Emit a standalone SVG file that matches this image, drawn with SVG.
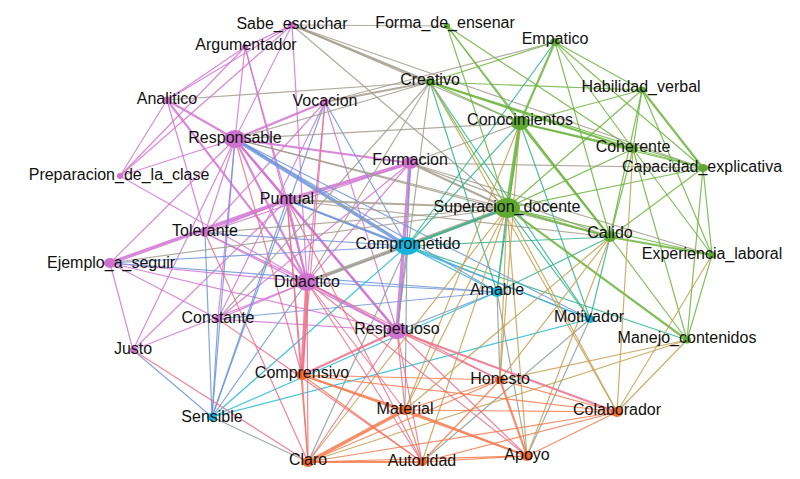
<svg xmlns="http://www.w3.org/2000/svg" width="800" height="479" viewBox="0 0 800 479">
<style>
line{stroke-width:1.2;stroke-opacity:.85;fill:none}
.w2{stroke-width:2.2}
.w3{stroke-width:3.6}
.pp{stroke:#d274d2}
.pc{stroke:#6c94dc}
.pg{stroke:#a39c8e}
.po{stroke:#ec7088}
.cc{stroke:#1fb9dc}
.cg{stroke:#2fb48e}
.co{stroke:#8c9e98}
.gg{stroke:#6cb43e}
.go{stroke:#c4a052}
.oo{stroke:#f57a4c}
.P{fill:#cf72cf}
.C{fill:#16b4dc}
.G{fill:#5fa832}
.O{fill:#f26a2c}
text{font-family:"Liberation Sans",Arial,sans-serif;font-size:16px;fill:#111;text-anchor:middle}
</style>
<rect width="800" height="479" fill="#fff"/>
<g id="edges">
<line class="pp" x1="292" y1="25" x2="245" y2="47"/>
<line class="pp" x1="292" y1="25" x2="167" y2="100"/>
<line class="pp" x1="292" y1="25" x2="120" y2="176"/>
<line class="pp" x1="292" y1="25" x2="235" y2="139"/>
<line class="pp" x1="292" y1="25" x2="307" y2="282"/>
<line class="pp" x1="245" y1="47" x2="167" y2="100"/>
<line class="pp" x1="245" y1="47" x2="120" y2="176"/>
<line class="pp" x1="245" y1="47" x2="235" y2="139"/>
<line class="pp" x1="245" y1="47" x2="307" y2="282"/>
<line class="pp" x1="245" y1="47" x2="287" y2="200"/>
<line class="pp" x1="167" y1="100" x2="120" y2="176"/>
<line class="pp w2" x1="167" y1="100" x2="235" y2="139"/>
<line class="pp" x1="167" y1="100" x2="205" y2="233"/>
<line class="pp w2" x1="167" y1="100" x2="307" y2="282"/>
<line class="pp w2" x1="325" y1="102" x2="235" y2="139"/>
<line class="pp" x1="325" y1="102" x2="307" y2="282"/>
<line class="pp" x1="325" y1="102" x2="397" y2="331"/>
<line class="pp" x1="325" y1="102" x2="205" y2="233"/>
<line class="pp" x1="325" y1="102" x2="218" y2="319"/>
<line class="pp" x1="235" y1="139" x2="120" y2="176"/>
<line class="pp w2" x1="235" y1="139" x2="287" y2="200"/>
<line class="pp" x1="235" y1="139" x2="205" y2="233"/>
<line class="pp w2" x1="235" y1="139" x2="307" y2="282"/>
<line class="pp w2" x1="235" y1="139" x2="397" y2="331"/>
<line class="pp w2" x1="235" y1="139" x2="410" y2="163"/>
<line class="pp" x1="235" y1="139" x2="218" y2="319"/>
<line class="pp" x1="235" y1="139" x2="110" y2="263"/>
<line class="pp" x1="120" y1="176" x2="307" y2="282"/>
<line class="pp w3" x1="410" y1="163" x2="287" y2="200"/>
<line class="pp w3" x1="410" y1="163" x2="397" y2="331"/>
<line class="pp" x1="410" y1="163" x2="307" y2="282"/>
<line class="pp" x1="410" y1="163" x2="205" y2="233"/>
<line class="pp" x1="410" y1="163" x2="218" y2="319"/>
<line class="pp w3" x1="287" y1="200" x2="110" y2="263"/>
<line class="pp w2" x1="287" y1="200" x2="307" y2="282"/>
<line class="pp w2" x1="287" y1="200" x2="397" y2="331"/>
<line class="pp" x1="287" y1="200" x2="205" y2="233"/>
<line class="pp" x1="205" y1="233" x2="307" y2="282"/>
<line class="pp" x1="205" y1="233" x2="397" y2="331"/>
<line class="pp" x1="110" y1="263" x2="307" y2="282"/>
<line class="pp" x1="110" y1="263" x2="397" y2="331"/>
<line class="pp" x1="110" y1="263" x2="133" y2="350"/>
<line class="pp" x1="110" y1="263" x2="218" y2="319"/>
<line class="pp w2" x1="307" y1="282" x2="397" y2="331"/>
<line class="pp" x1="307" y1="282" x2="218" y2="319"/>
<line class="pp" x1="307" y1="282" x2="133" y2="350"/>
<line class="pp" x1="218" y1="319" x2="397" y2="331"/>
<line class="pp" x1="133" y1="350" x2="287" y2="200"/>
<line class="pp" x1="133" y1="350" x2="235" y2="139"/>
<line class="pc w3" x1="235" y1="139" x2="407" y2="246"/>
<line class="pc" x1="235" y1="139" x2="212" y2="417"/>
<line class="pc" x1="235" y1="139" x2="590" y2="319"/>
<line class="pc" x1="235" y1="139" x2="497" y2="292"/>
<line class="pc" x1="325" y1="102" x2="407" y2="246"/>
<line class="pc" x1="325" y1="102" x2="212" y2="417"/>
<line class="pc w2" x1="287" y1="200" x2="407" y2="246"/>
<line class="pc" x1="287" y1="200" x2="212" y2="417"/>
<line class="pc" x1="287" y1="200" x2="590" y2="319"/>
<line class="pc" x1="205" y1="233" x2="212" y2="417"/>
<line class="pc" x1="205" y1="233" x2="407" y2="246"/>
<line class="pc" x1="110" y1="263" x2="497" y2="292"/>
<line class="pc" x1="110" y1="263" x2="407" y2="246"/>
<line class="pc" x1="307" y1="282" x2="212" y2="417"/>
<line class="pc" x1="307" y1="282" x2="497" y2="292"/>
<line class="pc" x1="218" y1="319" x2="212" y2="417"/>
<line class="pc" x1="218" y1="319" x2="497" y2="292"/>
<line class="pc" x1="133" y1="350" x2="212" y2="417"/>
<line class="pc" x1="397" y1="331" x2="497" y2="292"/>
<line class="pc" x1="397" y1="331" x2="407" y2="246"/>
<line class="pc" x1="410" y1="163" x2="407" y2="246"/>
<line class="pc" x1="307" y1="282" x2="407" y2="246"/>
<line class="pg" x1="292" y1="25" x2="447" y2="26"/>
<line class="pg w2" x1="292" y1="25" x2="430" y2="82"/>
<line class="pg" x1="292" y1="25" x2="520" y2="123"/>
<line class="pg" x1="292" y1="25" x2="703" y2="168"/>
<line class="pg" x1="292" y1="25" x2="507" y2="208"/>
<line class="pg" x1="167" y1="100" x2="430" y2="82"/>
<line class="pg w2" x1="325" y1="102" x2="430" y2="82"/>
<line class="pg" x1="325" y1="102" x2="555" y2="42"/>
<line class="pg" x1="235" y1="139" x2="520" y2="123"/>
<line class="pg" x1="235" y1="139" x2="507" y2="208"/>
<line class="pg" x1="235" y1="139" x2="430" y2="82"/>
<line class="pg" x1="235" y1="139" x2="610" y2="237"/>
<line class="pg w2" x1="410" y1="163" x2="507" y2="208"/>
<line class="pg" x1="410" y1="163" x2="610" y2="237"/>
<line class="pg" x1="410" y1="163" x2="712" y2="255"/>
<line class="pg" x1="410" y1="163" x2="703" y2="168"/>
<line class="pg" x1="410" y1="163" x2="520" y2="123"/>
<line class="pg w2" x1="287" y1="200" x2="507" y2="208"/>
<line class="pg" x1="287" y1="200" x2="610" y2="237"/>
<line class="pg w3" x1="307" y1="282" x2="507" y2="208"/>
<line class="pg" x1="218" y1="319" x2="430" y2="82"/>
<line class="pg" x1="205" y1="233" x2="507" y2="208"/>
<line class="pg" x1="397" y1="331" x2="430" y2="82"/>
<line class="pg" x1="110" y1="263" x2="507" y2="208"/>
<line class="pg" x1="307" y1="282" x2="430" y2="82"/>
<line class="cc" x1="407" y1="246" x2="497" y2="292"/>
<line class="cc" x1="407" y1="246" x2="590" y2="319"/>
<line class="cc" x1="407" y1="246" x2="212" y2="417"/>
<line class="cc" x1="212" y1="417" x2="590" y2="319"/>
<line class="cc" x1="212" y1="417" x2="497" y2="292"/>
<line class="cg w2" x1="407" y1="246" x2="507" y2="208"/>
<line class="cg" x1="407" y1="246" x2="520" y2="123"/>
<line class="cg" x1="407" y1="246" x2="555" y2="42"/>
<line class="cg" x1="430" y1="82" x2="497" y2="292"/>
<line class="cg" x1="520" y1="123" x2="497" y2="292"/>
<line class="cg" x1="610" y1="237" x2="497" y2="292"/>
<line class="cg" x1="407" y1="246" x2="610" y2="237"/>
<line class="cg" x1="590" y1="319" x2="520" y2="123"/>
<line class="cg" x1="590" y1="319" x2="610" y2="237"/>
<line class="cg" x1="590" y1="319" x2="507" y2="208"/>
<line class="cg" x1="407" y1="246" x2="687" y2="340"/>
<line class="cg" x1="497" y1="292" x2="507" y2="208"/>
<line class="cg" x1="590" y1="319" x2="430" y2="82"/>
<line class="co" x1="212" y1="417" x2="308" y2="462"/>
<line class="co" x1="497" y1="292" x2="500" y2="380"/>
<line class="co" x1="497" y1="292" x2="527" y2="456"/>
<line class="co" x1="590" y1="319" x2="422" y2="462"/>
<line class="co" x1="590" y1="319" x2="527" y2="456"/>
<line class="co" x1="407" y1="246" x2="308" y2="462"/>
<line class="co" x1="407" y1="246" x2="405" y2="410"/>
<line class="gg" x1="447" y1="26" x2="520" y2="123"/>
<line class="gg" x1="447" y1="26" x2="507" y2="208"/>
<line class="gg" x1="447" y1="26" x2="633" y2="149"/>
<line class="gg" x1="447" y1="26" x2="610" y2="237"/>
<line class="gg" x1="555" y1="42" x2="430" y2="82"/>
<line class="gg w2" x1="555" y1="42" x2="520" y2="123"/>
<line class="gg" x1="555" y1="42" x2="642" y2="90"/>
<line class="gg" x1="555" y1="42" x2="633" y2="149"/>
<line class="gg" x1="555" y1="42" x2="703" y2="168"/>
<line class="gg" x1="555" y1="42" x2="610" y2="237"/>
<line class="gg" x1="430" y1="82" x2="642" y2="90"/>
<line class="gg" x1="430" y1="82" x2="520" y2="123"/>
<line class="gg w2" x1="430" y1="82" x2="633" y2="149"/>
<line class="gg" x1="430" y1="82" x2="703" y2="168"/>
<line class="gg" x1="430" y1="82" x2="507" y2="208"/>
<line class="gg" x1="642" y1="90" x2="520" y2="123"/>
<line class="gg" x1="642" y1="90" x2="633" y2="149"/>
<line class="gg w2" x1="642" y1="90" x2="703" y2="168"/>
<line class="gg" x1="642" y1="90" x2="610" y2="237"/>
<line class="gg" x1="642" y1="90" x2="712" y2="255"/>
<line class="gg" x1="642" y1="90" x2="507" y2="208"/>
<line class="gg w3" x1="520" y1="123" x2="507" y2="208"/>
<line class="gg w2" x1="520" y1="123" x2="633" y2="149"/>
<line class="gg w2" x1="520" y1="123" x2="610" y2="237"/>
<line class="gg" x1="520" y1="123" x2="703" y2="168"/>
<line class="gg" x1="633" y1="149" x2="703" y2="168"/>
<line class="gg" x1="633" y1="149" x2="610" y2="237"/>
<line class="gg" x1="633" y1="149" x2="712" y2="255"/>
<line class="gg" x1="633" y1="149" x2="687" y2="340"/>
<line class="gg" x1="633" y1="149" x2="507" y2="208"/>
<line class="gg" x1="703" y1="168" x2="507" y2="208"/>
<line class="gg" x1="703" y1="168" x2="712" y2="255"/>
<line class="gg" x1="703" y1="168" x2="687" y2="340"/>
<line class="gg" x1="703" y1="168" x2="610" y2="237"/>
<line class="gg w2" x1="507" y1="208" x2="610" y2="237"/>
<line class="gg w2" x1="507" y1="208" x2="687" y2="340"/>
<line class="gg w2" x1="610" y1="237" x2="712" y2="255"/>
<line class="gg" x1="610" y1="237" x2="687" y2="340"/>
<line class="gg" x1="712" y1="255" x2="687" y2="340"/>
<line class="gg" x1="507" y1="208" x2="712" y2="255"/>
<line class="go" x1="520" y1="123" x2="405" y2="410"/>
<line class="go" x1="520" y1="123" x2="500" y2="380"/>
<line class="go" x1="507" y1="208" x2="405" y2="410"/>
<line class="go" x1="507" y1="208" x2="422" y2="462"/>
<line class="go" x1="507" y1="208" x2="527" y2="456"/>
<line class="go" x1="507" y1="208" x2="308" y2="462"/>
<line class="go" x1="507" y1="208" x2="500" y2="380"/>
<line class="go" x1="610" y1="237" x2="527" y2="456"/>
<line class="go" x1="610" y1="237" x2="500" y2="380"/>
<line class="go" x1="610" y1="237" x2="405" y2="410"/>
<line class="go" x1="633" y1="149" x2="617" y2="412"/>
<line class="go" x1="687" y1="340" x2="500" y2="380"/>
<line class="go" x1="687" y1="340" x2="308" y2="462"/>
<line class="go" x1="687" y1="340" x2="617" y2="412"/>
<line class="go" x1="712" y1="255" x2="617" y2="412"/>
<line class="go" x1="430" y1="82" x2="617" y2="412"/>
<line class="go" x1="507" y1="208" x2="617" y2="412"/>
<line class="po" x1="235" y1="139" x2="302" y2="375"/>
<line class="po" x1="325" y1="102" x2="302" y2="375"/>
<line class="po" x1="287" y1="200" x2="308" y2="462"/>
<line class="po" x1="287" y1="200" x2="302" y2="375"/>
<line class="po w3" x1="307" y1="282" x2="302" y2="375"/>
<line class="po" x1="307" y1="282" x2="308" y2="462"/>
<line class="po" x1="307" y1="282" x2="405" y2="410"/>
<line class="po" x1="307" y1="282" x2="422" y2="462"/>
<line class="po" x1="307" y1="282" x2="527" y2="456"/>
<line class="po" x1="307" y1="282" x2="500" y2="380"/>
<line class="po w2" x1="397" y1="331" x2="302" y2="375"/>
<line class="po" x1="397" y1="331" x2="405" y2="410"/>
<line class="po" x1="397" y1="331" x2="308" y2="462"/>
<line class="po" x1="397" y1="331" x2="422" y2="462"/>
<line class="po" x1="397" y1="331" x2="527" y2="456"/>
<line class="po" x1="397" y1="331" x2="500" y2="380"/>
<line class="po w2" x1="397" y1="331" x2="617" y2="412"/>
<line class="po" x1="205" y1="233" x2="308" y2="462"/>
<line class="po" x1="133" y1="350" x2="308" y2="462"/>
<line class="po" x1="218" y1="319" x2="422" y2="462"/>
<line class="po" x1="287" y1="200" x2="422" y2="462"/>
<line class="oo w2" x1="302" y1="375" x2="405" y2="410"/>
<line class="oo" x1="302" y1="375" x2="500" y2="380"/>
<line class="oo" x1="302" y1="375" x2="617" y2="412"/>
<line class="oo" x1="302" y1="375" x2="308" y2="462"/>
<line class="oo" x1="302" y1="375" x2="527" y2="456"/>
<line class="oo" x1="302" y1="375" x2="422" y2="462"/>
<line class="oo w3" x1="405" y1="410" x2="308" y2="462"/>
<line class="oo" x1="405" y1="410" x2="422" y2="462"/>
<line class="oo w2" x1="405" y1="410" x2="527" y2="456"/>
<line class="oo" x1="405" y1="410" x2="500" y2="380"/>
<line class="oo" x1="405" y1="410" x2="617" y2="412"/>
<line class="oo w2" x1="500" y1="380" x2="527" y2="456"/>
<line class="oo" x1="500" y1="380" x2="308" y2="462"/>
<line class="oo" x1="500" y1="380" x2="422" y2="462"/>
<line class="oo" x1="500" y1="380" x2="617" y2="412"/>
<line class="oo w2" x1="308" y1="462" x2="422" y2="462"/>
<line class="oo" x1="308" y1="462" x2="527" y2="456"/>
<line class="oo" x1="308" y1="462" x2="617" y2="412"/>
<line class="oo" x1="422" y1="462" x2="527" y2="456"/>
<line class="oo" x1="422" y1="462" x2="617" y2="412"/>
<line class="oo" x1="527" y1="456" x2="617" y2="412"/>
</g>
<g id="n-Sabe_escuchar"><ellipse class="P" cx="292" cy="25" rx="4" ry="3.5"/><text x="292" y="29">Sabe_escuchar</text></g>
<g id="n-Argumentador"><ellipse class="P" cx="245" cy="47" rx="3" ry="3"/><text x="246" y="50">Argumentador</text></g>
<g id="n-Analitico"><ellipse class="P" cx="167" cy="100" rx="4" ry="3.5"/><text x="167" y="104">Analitico</text></g>
<g id="n-Vocacion"><ellipse class="P" cx="325" cy="102" rx="4" ry="3.5"/><text x="325" y="106">Vocacion</text></g>
<g id="n-Responsable"><ellipse class="P" cx="235" cy="139" rx="11" ry="9"/><text x="235" y="143">Responsable</text></g>
<g id="n-Preparacion_de_la_clase"><ellipse class="P" cx="120" cy="176" rx="3" ry="3"/><text x="119" y="180">Preparacion_de_la_clase</text></g>
<g id="n-Formacion"><ellipse class="P" cx="410" cy="163" rx="8" ry="6"/><text x="410" y="165">Formacion</text></g>
<g id="n-Puntual"><ellipse class="P" cx="287" cy="200" rx="8" ry="6"/><text x="287" y="204">Puntual</text></g>
<g id="n-Tolerante"><ellipse class="P" cx="205" cy="233" rx="5" ry="4"/><text x="205" y="236">Tolerante</text></g>
<g id="n-Ejemplo_a_seguir"><ellipse class="P" cx="110" cy="263" rx="6" ry="5"/><text x="111" y="268">Ejemplo_a_seguir</text></g>
<g id="n-Didactico"><ellipse class="P" cx="307" cy="282" rx="11" ry="9"/><text x="307" y="287">Didactico</text></g>
<g id="n-Constante"><ellipse class="P" cx="218" cy="319" rx="4" ry="3.5"/><text x="218" y="323">Constante</text></g>
<g id="n-Justo"><ellipse class="P" cx="133" cy="350" rx="3" ry="3"/><text x="133" y="354">Justo</text></g>
<g id="n-Respetuoso"><ellipse class="P" cx="397" cy="331" rx="10" ry="8"/><text x="397" y="334">Respetuoso</text></g>
<g id="n-Comprometido"><ellipse class="C" cx="407" cy="246" rx="12" ry="9"/><text x="408" y="249">Comprometido</text></g>
<g id="n-Amable"><ellipse class="C" cx="497" cy="292" rx="6" ry="5"/><text x="497" y="295">Amable</text></g>
<g id="n-Sensible"><ellipse class="C" cx="212" cy="417" rx="5" ry="4"/><text x="212" y="422">Sensible</text></g>
<g id="n-Motivador"><ellipse class="C" cx="590" cy="319" rx="5" ry="4"/><text x="589" y="322">Motivador</text></g>
<g id="n-Forma_de_ensenar"><ellipse class="G" cx="447" cy="26" rx="3" ry="3"/><text x="445" y="28">Forma_de_ensenar</text></g>
<g id="n-Empatico"><ellipse class="G" cx="555" cy="42" rx="5" ry="4"/><text x="555" y="44">Empatico</text></g>
<g id="n-Creativo"><ellipse class="G" cx="430" cy="82" rx="5" ry="4"/><text x="430" y="85">Creativo</text></g>
<g id="n-Habilidad_verbal"><ellipse class="G" cx="642" cy="90" rx="4" ry="3.5"/><text x="641" y="92">Habilidad_verbal</text></g>
<g id="n-Conocimientos"><ellipse class="G" cx="520" cy="123" rx="9" ry="7"/><text x="520" y="125">Conocimientos</text></g>
<g id="n-Coherente"><ellipse class="G" cx="633" cy="149" rx="5" ry="4"/><text x="633" y="152">Coherente</text></g>
<g id="n-Capacidad_explicativa"><ellipse class="G" cx="703" cy="168" rx="5" ry="4"/><text x="702" y="172">Capacidad_explicativa</text></g>
<g id="n-Superacion_docente"><ellipse class="G" cx="507" cy="208" rx="13" ry="10"/><text x="507" y="212">Superacion_docente</text></g>
<g id="n-Calido"><ellipse class="G" cx="610" cy="237" rx="6" ry="5"/><text x="610" y="238">Calido</text></g>
<g id="n-Experiencia_laboral"><ellipse class="G" cx="712" cy="255" rx="4" ry="3.5"/><text x="712" y="259">Experiencia_laboral</text></g>
<g id="n-Manejo_contenidos"><ellipse class="G" cx="687" cy="340" rx="4" ry="3.5"/><text x="687" y="343">Manejo_contenidos</text></g>
<g id="n-Comprensivo"><ellipse class="O" cx="302" cy="375" rx="6" ry="5"/><text x="302" y="378">Comprensivo</text></g>
<g id="n-Honesto"><ellipse class="O" cx="500" cy="380" rx="5" ry="4"/><text x="500" y="384">Honesto</text></g>
<g id="n-Material"><ellipse class="O" cx="405" cy="410" rx="6" ry="5"/><text x="405" y="414">Material</text></g>
<g id="n-Colaborador"><ellipse class="O" cx="617" cy="412" rx="6" ry="5"/><text x="617" y="415">Colaborador</text></g>
<g id="n-Claro"><ellipse class="O" cx="308" cy="462" rx="6" ry="5"/><text x="308" y="465">Claro</text></g>
<g id="n-Autoridad"><ellipse class="O" cx="422" cy="462" rx="5" ry="4"/><text x="422" y="466">Autoridad</text></g>
<g id="n-Apoyo"><ellipse class="O" cx="527" cy="456" rx="6" ry="5"/><text x="527" y="460">Apoyo</text></g>
</svg>
